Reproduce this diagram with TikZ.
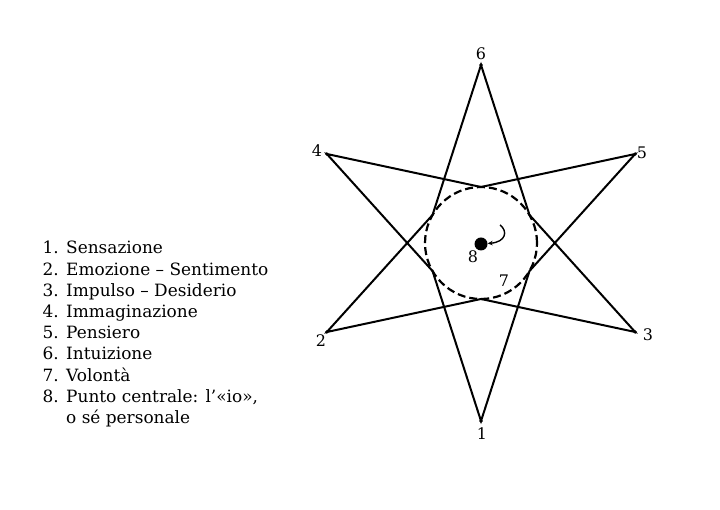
\documentclass[tikz,border=0pt]{standalone}
\usepackage{fontspec}
\setmainfont{DejaVu Serif}
\usetikzlibrary{arrows.meta}

\begin{document}
\begin{tikzpicture}[x=1bp, y=1bp,
    starline/.style={black, line width=2bp, line join=miter},
    dashcircle/.style={black, line width=2.2bp, dash pattern=on 8bp off 4bp},
    tiplabel/.style={inner sep=0pt, font=\fontsize{16}{18}\selectfont},
    listnum/.style={anchor=base east, inner sep=0pt, font=\fontsize{17}{20}\selectfont},
    listtxt/.style={anchor=base west, inner sep=0pt, font=\fontsize{17}{20}\selectfont}]
  \useasboundingbox (0,0) rectangle (720,510);

  \begin{scope}[shift={(481bp,267bp)}]
    % Pontas da estrela
    \coordinate (t6) at (90:178);
    \coordinate (t5) at (30:178);
    \coordinate (t3) at (-30:178);
    \coordinate (t1) at (-90:178);
    \coordinate (t2) at (210:178);
    \coordinate (t4) at (150:178);
    % Vertices internos
    \coordinate (v90)  at (90:56);
    \coordinate (v30)  at (30:56);
    \coordinate (v330) at (-30:56);
    \coordinate (v270) at (-90:56);
    \coordinate (v210) at (210:56);
    \coordinate (v150) at (150:56);

    % Estrela
    \draw[starline] (t6) -- (v30) -- (t3) -- (v270) -- (t2) -- (v150) -- cycle;
    \draw[starline] (t4) -- (v90) -- (t5) -- (v330) -- (t1) -- (v210) -- cycle;
    \foreach \p in {t1,t2,t3,t4,t5,t6}
      \filldraw[black] (\p) circle (1.5);

    % Circulo
    \draw[dashcircle] (0,0) circle (56);

    % Centro
    \node[circle, fill=black, inner sep=0pt, minimum size=13bp] (io) at (0,-1) {};
    \coordinate (hook) at (19,18);
    \draw[black, line width=1.4bp, -{Stealth[length=5bp, width=4.5bp]}]
      (hook) .. controls (27,12) and (25,1) .. (io);

    \node[tiplabel] (l8) at (-8,-14) {8};
    \node[tiplabel] (l7) at (23,-38) {7};

    % Rotulos das pontas
    \node[tiplabel] (l6) at (0,189)     {6};
    \node[tiplabel] (l1) at (1,-191)    {1};
    \node[tiplabel] (l2) at (-160,-98)  {2};
    \node[tiplabel] (l3) at (167,-92)   {3};
    \node[tiplabel] (l4) at (-164,92)   {4};
    \node[tiplabel] (l5) at (161,90)    {5};
  \end{scope}

  % Legenda
  \foreach \n/\t [count=\k from 0] in {1/Sensazione, 2/Emozione – Sentimento,
      3/Impulso – Desiderio, 4/Immaginazione, 5/Pensiero, 6/Intuizione,
      7/Volontà, 8/{Punto centrale: l’«io»,}} {
    \node[listnum] (num\n)  at (59, 256-21.2*\k) {\n.};
    \node[listtxt] (item\n) at (66, 256-21.2*\k) {\t};
  }
  \node[listtxt] (item9) at (66, 256-21.2*8) {o sé personale};
\end{tikzpicture}
\end{document}
